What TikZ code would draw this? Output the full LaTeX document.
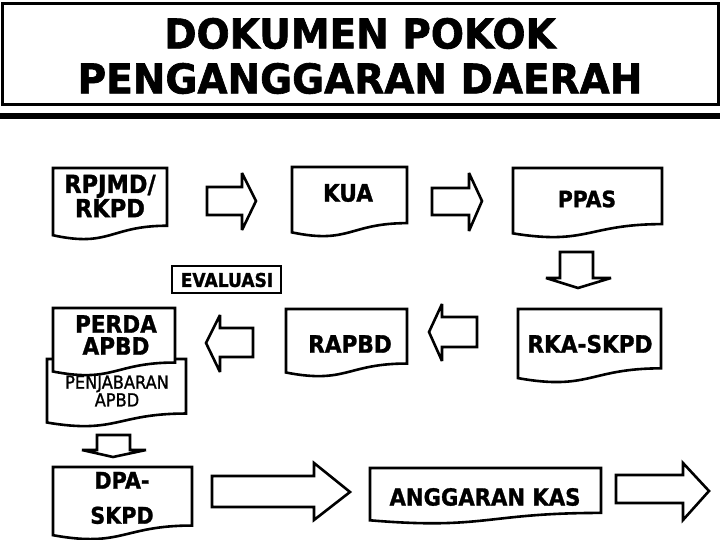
\documentclass[tikz,border=0pt]{standalone}
\usepackage{fontspec}
\setmainfont{DejaVu Sans}[FakeStretch=0.9, BoldFeatures={FakeBold=1.2}]
\newfontfamily\titlefont{DejaVu Sans}[FakeStretch=0.95, BoldFeatures={FakeBold=1.5}]
\newfontfamily\narrowfont{DejaVu Sans}[FakeStretch=0.9, FakeBold=1.2]
\newcommand\docshape[4]{\draw[doc] (#1,#2) -- (#1+#3,#2) -- (#1+#3,#2+0.802*#4) .. controls (#1+0.5*#3,#2+0.802*#4) and (#1+0.5*#3,#2+1.107*#4) .. (#1,#2+0.934*#4) -- cycle;}
\begin{document}
\begin{tikzpicture}[x=1pt,y=-1pt,
  shapeline/.style={line width=2.6pt, line join=miter, miter limit=4},
  doc/.style={shapeline, fill=white},
  blockarrow/.style={shapeline, fill=white},
  lbl/.style={align=center, inner sep=0pt},
]
\useasboundingbox (0,0) rectangle (720,540);
% title
\draw[line width=3pt] (2,4) rectangle (718,105);
\fill (0,113) rectangle (720,119);
\node[lbl, font=\titlefont\bfseries\fontsize{41}{45}\selectfont] (title) at (360,56) {DOKUMEN POKOK\\PENGANGGARAN DAERAH};
% documents
\docshape{53}{168}{114}{72}
\node[lbl, font=\bfseries\fontsize{25}{19}\selectfont] (rpjmd) at (110,196) {RPJMD/\\RKPD};
\docshape{292}{167}{115}{70}
\node[lbl, font=\bfseries\fontsize{24}{24}\selectfont] (kua) at (348,193) {KUA};
\docshape{513}{168}{149}{70}
\node[lbl, font=\bfseries\fontsize{22.5}{24}\selectfont] (ppas) at (587,199) {PPAS};
\draw[line width=2.6pt] (172,266) rectangle (281,293);
\node[lbl, font=\bfseries\fontsize{19}{19}\selectfont] (eval) at (227,280) {EVALUASI};
\docshape{47}{359}{139}{68}
\node[lbl, font=\narrowfont\fontsize{18}{14}\selectfont] (penj) at (117,391) {PENJABARAN\\APBD};
\docshape{53}{308}{122}{68}
\node[lbl, font=\bfseries\fontsize{24}{22}\selectfont] (perda) at (116,335) {PERDA\\APBD};
\docshape{286}{309}{121}{68}
\node[lbl, font=\bfseries\fontsize{24}{24}\selectfont] (rapbd) at (350,344) {RAPBD};
\docshape{518}{309}{143}{74}
\node[lbl, font=\bfseries\fontsize{24}{24}\selectfont] (rka) at (590,344) {RKA-SKPD};
\docshape{53}{467}{139}{73}
\node[lbl, font=\bfseries\fontsize{23}{35}\selectfont] (dpa) at (122,498) {DPA-\\SKPD};
\docshape{370}{468}{231}{56}
\node[lbl, font=\bfseries\fontsize{23.5}{24}\selectfont] (kas) at (485,497) {ANGGARAN KAS};
% block arrows
\draw[blockarrow] (207,187) -- (242,187) -- (242,173) -- (256,201) -- (242,230) -- (242,215) -- (207,215) -- cycle;
\draw[blockarrow] (432,188) -- (469,188) -- (469,173) -- (482,201) -- (469,231) -- (469,215) -- (432,215) -- cycle;
\draw[blockarrow] (560,252) -- (593,252) -- (593,278) -- (611,278) -- (578,288) -- (546,278) -- (560,278) -- cycle;
\draw[blockarrow] (253,328) -- (220,328) -- (220,315) -- (206,343) -- (220,372) -- (220,357) -- (253,357) -- cycle;
\draw[blockarrow] (477,317) -- (442,317) -- (442,304) -- (429,332) -- (442,361) -- (442,347) -- (477,347) -- cycle;
\draw[blockarrow] (97,435) -- (130,435) -- (130,450) -- (146,450) -- (113,457) -- (82,450) -- (97,450) -- cycle;
\draw[blockarrow] (212,476) -- (314,476) -- (314,463) -- (350,492) -- (314,520) -- (314,507) -- (212,507) -- cycle;
\draw[blockarrow] (616,475) -- (683,475) -- (683,463) -- (709,491) -- (683,520) -- (683,503) -- (616,503) -- cycle;
\end{tikzpicture}
\end{document}
